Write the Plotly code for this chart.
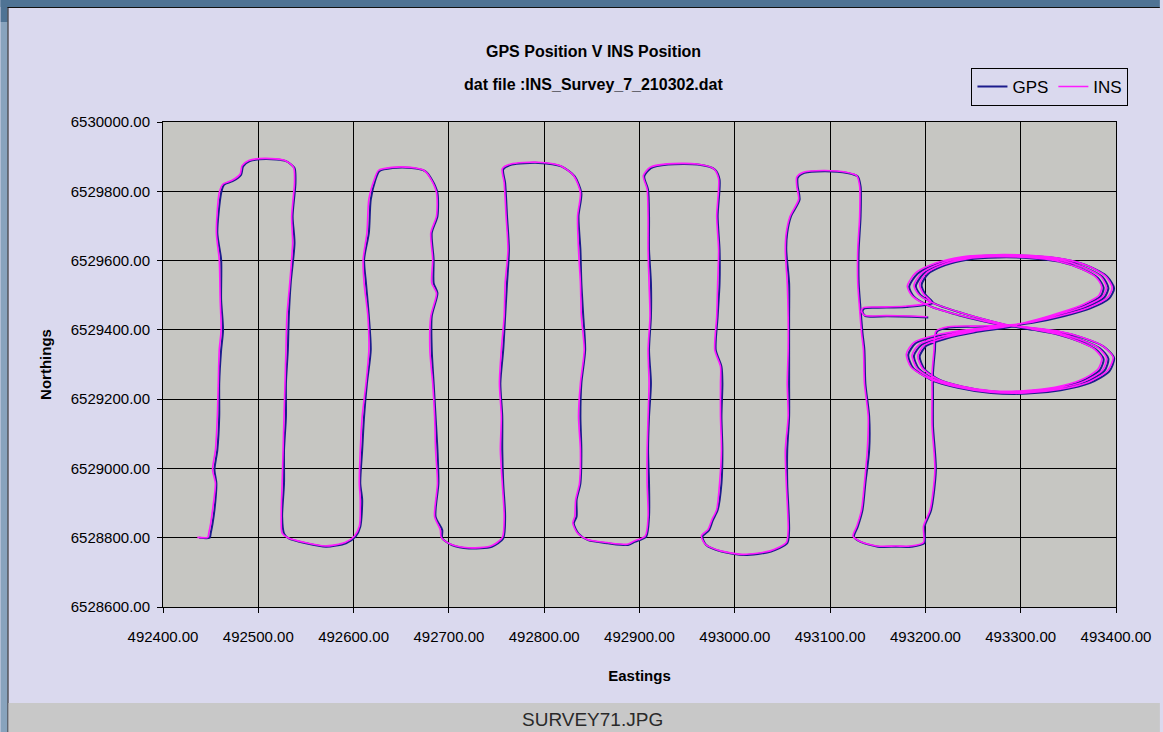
import plotly.graph_objects as go

# GPS track, survey lanes (Eastings / Northings in metres)
gps_lanes_e = [
    492438, 492449, 492450, 492452, 492454, 492456, 492454, 492457, 492459, 492459,
    492461, 492463, 492461, 492461, 492457, 492461, 492464, 492473, 492482, 492484,
    492491, 492508, 492529, 492538, 492539, 492536, 492538, 492534, 492532, 492531,
    492529, 492529, 492527, 492527, 492525, 492527, 492532, 492550, 492571, 492592,
    492602, 492607, 492609, 492607, 492609, 492611, 492614, 492618, 492616, 492613,
    492611, 492616, 492618, 492623, 492627, 492641, 492661, 492675, 492682, 492688,
    492688, 492682, 492684, 492684, 492688, 492682, 492682, 492684, 492686, 492688,
    492689, 492686, 492693, 492693, 492703, 492721, 492745, 492757, 492759, 492757,
    492756, 492756, 492754, 492757, 492759, 492761, 492763, 492761, 492759, 492757,
    492766, 492794, 492818, 492832, 492839, 492836, 492838, 492839, 492841, 492843,
    492839, 492838, 492839, 492838, 492834, 492834, 492831, 492836, 492846, 492867,
    492888,
    492895, 492907, 492910, 492910, 492909, 492910, 492912, 492910, 492912, 492912,
    492910, 492910, 492909, 492905, 492912, 492930, 492961, 492979, 492984, 492982,
    492984, 492984, 492982, 492980, 492986, 492987, 492986, 492987, 492986, 492982,
    492977, 492973, 492966, 492970, 492986, 493010, 493038, 493055, 493057, 493055,
    493055, 493057, 493057, 493057, 493057, 493057, 493054, 493055, 493059, 493068,
    493066, 493066, 493073, 493094, 493118, 493129, 493132, 493132, 493130, 493130,
    493132, 493134, 493136, 493137, 493141, 493141, 493137, 493134, 493129, 493125,
    493132, 493150, 493170, 493185, 493199, 493199, 493206, 493211, 493208, 493208,
    493208,
]
gps_lanes_n = [
    6528800, 6528800, 6528812, 6528841, 6528880, 6528957, 6528996, 6529053, 6529150, 6529246,
    6529342, 6529400, 6529487, 6529603, 6529680, 6529795, 6529819, 6529829, 6529848, 6529872,
    6529887, 6529893, 6529887, 6529867, 6529824, 6529728, 6529651, 6529535, 6529439, 6529342,
    6529246, 6529150, 6529053, 6528957, 6528861, 6528812, 6528798, 6528784, 6528774, 6528784,
    6528803, 6528832, 6528909, 6528957, 6529053, 6529150, 6529246, 6529342, 6529439, 6529535,
    6529603, 6529680, 6529776, 6529834, 6529858, 6529867, 6529867, 6529858, 6529834, 6529795,
    6529728, 6529680, 6529603, 6529535, 6529506, 6529439, 6529342, 6529246, 6529150, 6529053,
    6528957, 6528861, 6528822, 6528798, 6528779, 6528769, 6528774, 6528798, 6528861, 6528957,
    6529053, 6529150, 6529246, 6529342, 6529439, 6529535, 6529631, 6529728, 6529824, 6529863,
    6529877, 6529882, 6529872, 6529843, 6529795, 6529728, 6529631, 6529535, 6529439, 6529342,
    6529246, 6529150, 6529053, 6528957, 6528909, 6528861, 6528841, 6528812, 6528793, 6528784,
    6528779,
    6528788, 6528803, 6528861, 6528957, 6529053, 6529150, 6529246, 6529342, 6529439, 6529535,
    6529631, 6529728, 6529805, 6529843, 6529867, 6529877, 6529877, 6529863, 6529834, 6529728,
    6529631, 6529535, 6529439, 6529342, 6529294, 6529246, 6529150, 6529053, 6528957, 6528880,
    6528851, 6528822, 6528803, 6528779, 6528760, 6528750, 6528760, 6528784, 6528822, 6528957,
    6529053, 6529150, 6529246, 6529342, 6529439, 6529535, 6529631, 6529680, 6529728, 6529776,
    6529814, 6529839, 6529853, 6529858, 6529853, 6529843, 6529814, 6529728, 6529631, 6529535,
    6529458, 6529391, 6529342, 6529246, 6529150, 6529053, 6528957, 6528880, 6528832, 6528803,
    6528788, 6528774, 6528774, 6528774, 6528784, 6528832, 6528880, 6528996, 6529122, 6529218,
    6529276,
]

# GPS track, figure-of-eight calibration loops
gps_loops_e = [
    493210, 493212, 493225, 493258, 493286,
    493311, 493339, 493366, 493387, 493398, 493393, 493373, 493342, 493307, 493269,
    493234, 493206, 493187, 493182, 493190, 493213, 493244, 493286,
    493314, 493346, 493373, 493393, 493398, 493391, 493373, 493346, 493311, 493276,
    493241, 493213, 493192, 493183, 493188, 493206, 493234, 493262, 493286,
    493312, 493340, 493364, 493383, 493392, 493388, 493369, 493340, 493306, 493270,
    493236, 493210, 493193, 493188, 493196, 493218, 493248, 493288,
    493316, 493345, 493370, 493388, 493392, 493386, 493368, 493343, 493310, 493276,
    493243, 493217, 493198, 493190, 493195, 493212, 493238, 493265, 493288,
    493313, 493340, 493362, 493379, 493387, 493383, 493365, 493338, 493305, 493271,
    493239, 493214, 493199, 493194, 493201, 493222, 493252, 493290,
    493318, 493346, 493368, 493384, 493387, 493381, 493364, 493340, 493309, 493276,
    493245, 493221, 493203, 493196, 493200, 493208,
    493180, 493150, 493136, 493134, 493137, 493160, 493185, 493203,
]
gps_loops_n = [
    6529340, 6529395, 6529407, 6529409, 6529411,
    6529405, 6529395, 6529376, 6529352, 6529319, 6529280, 6529247, 6529226, 6529216, 6529218,
    6529233, 6529256, 6529290, 6529328, 6529362, 6529383, 6529398, 6529411,
    6529421, 6529440, 6529462, 6529491, 6529520, 6529553, 6529582, 6529603, 6529613, 6529615,
    6529609, 6529591, 6529563, 6529524, 6529496, 6529467, 6529443, 6529424, 6529411,
    6529403, 6529390, 6529370, 6529347, 6529317, 6529282, 6529250, 6529229, 6529219, 6529220,
    6529234, 6529256, 6529288, 6529325, 6529357, 6529378, 6529395, 6529410,
    6529424, 6529445, 6529467, 6529494, 6529521, 6529552, 6529579, 6529600, 6529610, 6529612,
    6529606, 6529589, 6529562, 6529526, 6529500, 6529473, 6529449, 6529428, 6529412,
    6529400, 6529386, 6529366, 6529343, 6529316, 6529284, 6529253, 6529232, 6529222, 6529222,
    6529236, 6529257, 6529287, 6529323, 6529354, 6529375, 6529393, 6529409,
    6529428, 6529450, 6529472, 6529497, 6529522, 6529550, 6529576, 6529597, 6529607, 6529609,
    6529603, 6529587, 6529562, 6529530, 6529502, 6529478,
    6529466, 6529464, 6529462, 6529452, 6529440, 6529439, 6529438, 6529436,
]

# INS track, survey lanes
ins_lanes_e = [
    492436, 492447, 492448, 492450, 492452, 492455, 492452, 492455, 492457, 492458,
    492459, 492461, 492460, 492459, 492456, 492459, 492463, 492472, 492481, 492483,
    492490, 492507, 492528, 492537, 492538, 492535, 492536, 492533, 492530, 492529,
    492528, 492527, 492526, 492525, 492524, 492525, 492531, 492549, 492570, 492591,
    492601, 492606, 492607, 492606, 492607, 492609, 492613, 492616, 492615, 492611,
    492610, 492614, 492616, 492622, 492626, 492640, 492660, 492674, 492681, 492687,
    492687, 492681, 492683, 492682, 492687, 492681, 492680, 492683, 492685, 492686,
    492688, 492685, 492691, 492692, 492702, 492720, 492744, 492756, 492758, 492756,
    492754, 492755, 492753, 492755, 492758, 492759, 492762, 492760, 492758, 492756,
    492765, 492793, 492817, 492831, 492838, 492835, 492836, 492838, 492839, 492842,
    492838, 492836, 492838, 492837, 492833, 492832, 492830, 492835, 492845, 492866,
    492887,
    492894, 492906, 492909, 492908, 492908, 492909, 492910, 492909, 492911, 492910,
    492909, 492909, 492908, 492904, 492911, 492929, 492960, 492978, 492983, 492981,
    492983, 492982, 492981, 492979, 492985, 492985, 492985, 492986, 492984, 492981,
    492976, 492972, 492965, 492969, 492985, 493009, 493037, 493054, 493056, 493054,
    493053, 493056, 493055, 493056, 493056, 493055, 493053, 493054, 493058, 493067,
    493065, 493065, 493072, 493093, 493117, 493128, 493131, 493131, 493129, 493129,
    493131, 493133, 493135, 493136, 493140, 493139, 493136, 493133, 493128, 493124,
    493131, 493149, 493169, 493184, 493198, 493198, 493205, 493210, 493207, 493207,
    493207,
]
ins_lanes_n = [
    6528801, 6528801, 6528813, 6528841, 6528880, 6528957, 6528996, 6529053, 6529150, 6529246,
    6529342, 6529400, 6529487, 6529603, 6529680, 6529796, 6529821, 6529831, 6529850, 6529874,
    6529889, 6529895, 6529889, 6529869, 6529825, 6529728, 6529651, 6529535, 6529439, 6529342,
    6529246, 6529150, 6529053, 6528957, 6528861, 6528813, 6528800, 6528786, 6528776, 6528786,
    6528805, 6528833, 6528909, 6528957, 6529053, 6529150, 6529246, 6529342, 6529439, 6529535,
    6529603, 6529680, 6529777, 6529836, 6529860, 6529869, 6529869, 6529860, 6529836, 6529796,
    6529728, 6529680, 6529603, 6529535, 6529506, 6529439, 6529342, 6529246, 6529150, 6529053,
    6528957, 6528861, 6528823, 6528800, 6528781, 6528771, 6528776, 6528800, 6528861, 6528957,
    6529053, 6529150, 6529246, 6529342, 6529439, 6529535, 6529631, 6529728, 6529825, 6529865,
    6529879, 6529884, 6529874, 6529845, 6529796, 6529728, 6529631, 6529535, 6529439, 6529342,
    6529246, 6529150, 6529053, 6528957, 6528909, 6528861, 6528842, 6528813, 6528795, 6528786,
    6528781,
    6528790, 6528805, 6528861, 6528957, 6529053, 6529150, 6529246, 6529342, 6529439, 6529535,
    6529631, 6529728, 6529806, 6529845, 6529869, 6529879, 6529879, 6529865, 6529836, 6529728,
    6529631, 6529535, 6529439, 6529342, 6529294, 6529246, 6529150, 6529053, 6528957, 6528881,
    6528852, 6528824, 6528805, 6528781, 6528762, 6528752, 6528762, 6528786, 6528823, 6528957,
    6529053, 6529150, 6529246, 6529342, 6529439, 6529535, 6529631, 6529680, 6529728, 6529777,
    6529815, 6529841, 6529855, 6529860, 6529855, 6529845, 6529815, 6529728, 6529631, 6529535,
    6529458, 6529391, 6529342, 6529246, 6529150, 6529053, 6528957, 6528881, 6528833, 6528805,
    6528790, 6528776, 6528776, 6528776, 6528786, 6528833, 6528881, 6528996, 6529122, 6529218,
    6529276,
]

# INS track, figure-of-eight calibration loops
ins_loops_e = [
    493209, 493211, 493224, 493257, 493285,
    493310, 493338, 493365, 493386, 493397, 493391, 493371, 493340, 493305, 493268,
    493233, 493205, 493185, 493180, 493188, 493211, 493243, 493285,
    493313, 493344, 493371, 493391, 493396, 493389, 493371, 493344, 493309, 493274,
    493239, 493211, 493190, 493181, 493186, 493204, 493232, 493261, 493286,
    493311, 493338, 493362, 493381, 493390, 493386, 493367, 493338, 493304, 493268,
    493234, 493208, 493191, 493186, 493194, 493216, 493246, 493287,
    493315, 493343, 493368, 493386, 493390, 493384, 493366, 493341, 493308, 493274,
    493241, 493215, 493196, 493188, 493193, 493210, 493236, 493263, 493287,
    493312, 493338, 493360, 493377, 493385, 493381, 493363, 493336, 493303, 493269,
    493237, 493212, 493197, 493192, 493199, 493220, 493250, 493289,
    493317, 493344, 493366, 493382, 493385, 493379, 493362, 493338, 493307, 493274,
    493243, 493219, 493201, 493194, 493198, 493206,
    493178, 493149, 493135, 493133, 493136, 493159, 493184, 493202,
]
ins_loops_n = [
    6529340, 6529396, 6529409, 6529411, 6529413,
    6529407, 6529397, 6529378, 6529354, 6529321, 6529282, 6529249, 6529228, 6529218, 6529220,
    6529235, 6529258, 6529292, 6529330, 6529364, 6529385, 6529400, 6529413,
    6529423, 6529442, 6529464, 6529493, 6529522, 6529555, 6529584, 6529605, 6529615, 6529617,
    6529611, 6529593, 6529565, 6529526, 6529498, 6529469, 6529445, 6529426, 6529413,
    6529405, 6529392, 6529372, 6529349, 6529319, 6529284, 6529252, 6529231, 6529221, 6529222,
    6529236, 6529258, 6529290, 6529327, 6529359, 6529380, 6529397, 6529412,
    6529426, 6529447, 6529469, 6529496, 6529523, 6529554, 6529581, 6529602, 6529612, 6529614,
    6529608, 6529591, 6529564, 6529528, 6529502, 6529475, 6529451, 6529430, 6529414,
    6529402, 6529388, 6529368, 6529345, 6529318, 6529286, 6529255, 6529234, 6529224, 6529224,
    6529238, 6529259, 6529289, 6529325, 6529356, 6529377, 6529395, 6529411,
    6529430, 6529452, 6529474, 6529499, 6529524, 6529552, 6529578, 6529599, 6529609, 6529611,
    6529605, 6529589, 6529564, 6529532, 6529504, 6529480,
    6529468, 6529466, 6529464, 6529454, 6529442, 6529441, 6529440, 6529438,
]

x_ticks = [492400 + 100 * i for i in range(11)]
y_ticks = [6528600 + 200 * i for i in range(8)]

# page geometry (pixels) -> paper coords
W, H = 1163, 732
L, R, T, B = 163, 1119, 122, 607


def fx(p):
    return (p - L) / (R - L)


def fy(p):
    return (B - p) / (B - T)


LAVENDER = '#dad9ee'
FONT = 'Liberation Sans'

fig = go.Figure()
fig.add_trace(go.Scatter(x=gps_lanes_e + gps_loops_e, y=gps_lanes_n + gps_loops_n,
                         mode='lines', name='GPS',
                         line=dict(color='#1c1c8c', width=2, shape='spline', smoothing=0.7)))
fig.add_trace(go.Scatter(x=ins_lanes_e + ins_loops_e, y=ins_lanes_n + ins_loops_n,
                         mode='lines', name='INS',
                         line=dict(color='#ff1aff', width=1.6, shape='spline', smoothing=0.7)))

# window frame and status bar
shapes = [
    dict(x0=fx(0), x1=fx(W), y0=fy(7), y1=fy(0), fillcolor='#4f7394'),
    dict(x0=fx(0), x1=fx(7), y0=fy(22), y1=fy(0), fillcolor='#4f7394'),
    dict(x0=fx(0), x1=fx(7), y0=fy(H), y1=fy(22), fillcolor='#88a3bd'),
    dict(x0=fx(7), x1=fx(W), y0=fy(8), y1=fy(7), fillcolor='#111111'),
    dict(x0=fx(7), x1=fx(8), y0=fy(H), y1=fy(7), fillcolor='#111111'),
    dict(x0=fx(8), x1=fx(W), y0=fy(H), y1=fy(703), fillcolor='#c8c8c8'),
]
for s in shapes:
    fig.add_shape(type='rect', xref='paper', yref='paper', line_width=0, layer='below', **s)

title_font = dict(family=FONT, size=16, color='black')
for text, ypix in [('<b>GPS Position V INS Position</b>', 51),
                   ('<b>dat file :INS_Survey_7_210302.dat</b>', 84)]:
    fig.add_annotation(text=text, x=fx(595), y=fy(ypix), xref='paper', yref='paper',
                       xanchor='center', yanchor='middle', showarrow=False, font=title_font)
fig.add_annotation(text='SURVEY71.JPG', x=fx(594), y=fy(719), xref='paper', yref='paper',
                   xanchor='center', yanchor='middle', showarrow=False,
                   font=dict(family=FONT, size=19, color='#2a2a2a'))

axis_common = dict(showgrid=True, gridcolor='black', gridwidth=1, showline=True,
                   linecolor='black', linewidth=1, mirror=True, zeroline=False,
                   ticks='outside', ticklen=5, tickcolor='black', tickformat='.2f',
                   tickfont=dict(family=FONT, size=15, color='black'))

fig.update_layout(
    width=W, height=H,
    margin=dict(l=L, r=W - R, t=T, b=H - B, pad=0),
    paper_bgcolor=LAVENDER,
    plot_bgcolor='#c6c6c2',
    showlegend=True,
    legend=dict(orientation='h', x=fx(974), y=fy(68), xanchor='left', yanchor='top',
                bgcolor=LAVENDER, bordercolor='black', borderwidth=1,
                font=dict(family=FONT, size=17, color='black')),
    xaxis=dict(range=[492400, 493400], tickvals=x_ticks, ticklabelstandoff=11,
               title=dict(text='<b>Eastings</b>', standoff=26,
                          font=dict(family=FONT, size=15, color='black')),
               **axis_common),
    yaxis=dict(range=[6528600, 6530000], tickvals=y_ticks, ticklabelstandoff=4,
               title=dict(text='<b>Northings</b>', standoff=15,
                          font=dict(family=FONT, size=15, color='black')),
               **axis_common),
)

fig.write_html("out.html", config={'displayModeBar': False},
               post_script="document.body.style.margin='0px';document.body.style.overflow='hidden';")
